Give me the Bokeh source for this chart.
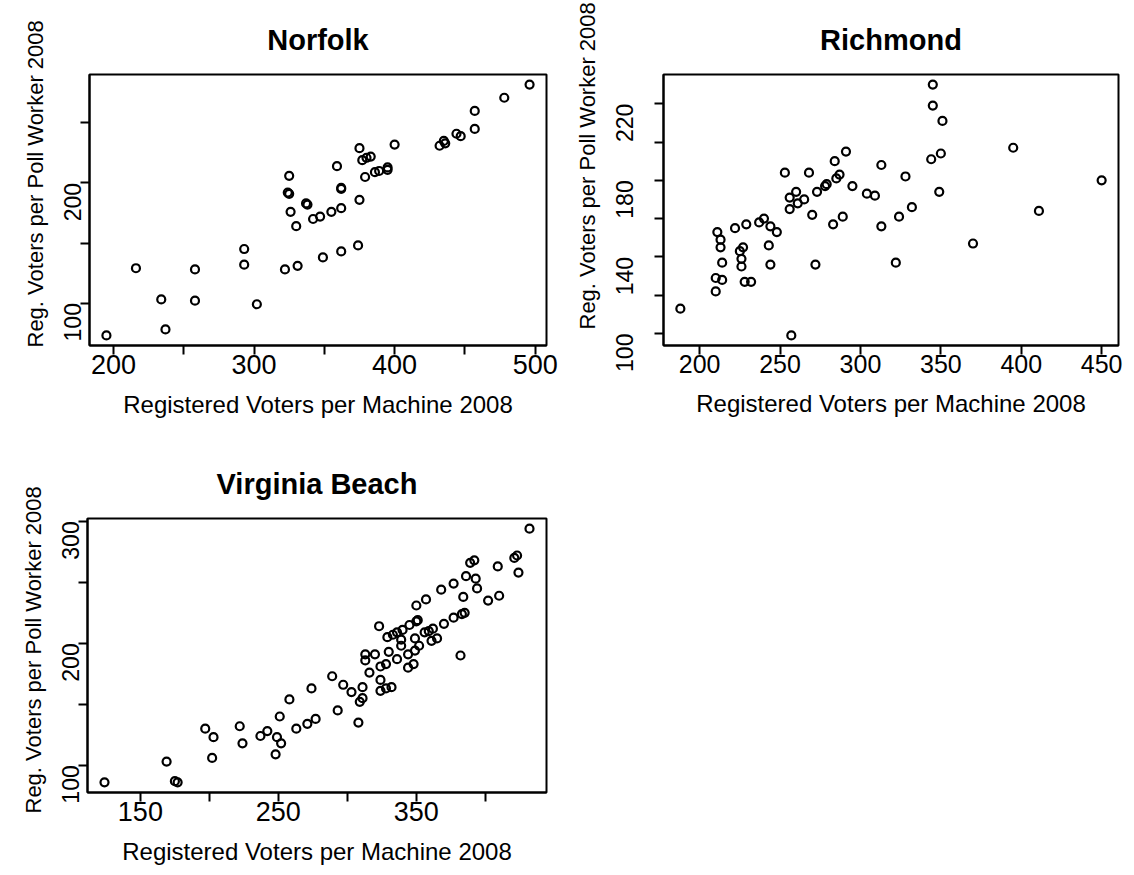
import math
from bokeh.plotting import figure
from bokeh.models import Range1d, FixedTicker, Title
from bokeh.layouts import column, row
from bokeh.embed import file_html
from bokeh.resources import INLINE

FONT = "Liberation Sans"
XLAB = "Registered Voters per Machine 2008"
YLAB = "Reg. Voters per Poll Worker 2008"

# ---------------- data ----------------
norfolk_x = [195, 216, 234, 237, 258, 258, 293, 293, 302, 325, 324, 325, 326, 330, 322, 331,
             337, 338, 342, 347, 349, 355, 362, 359, 362, 362, 362, 375, 377, 380, 383, 375,
             374, 379, 386, 389, 395, 395, 400, 432, 435, 436, 444, 447, 457, 457, 478, 496]
norfolk_y = [73, 129, 103, 78, 128, 102, 145, 132, 99, 206, 192, 191, 176, 164, 128, 131,
             183, 182, 170, 172, 138, 176, 179, 214, 196, 195, 143, 229, 219, 221, 222, 186,
             148, 205, 209, 210, 213, 211, 232, 231, 235, 233, 241, 239, 260, 245, 271, 282]
norfolk_xticks = [200, 250, 300, 350, 400, 450, 500]
norfolk_xlabels = ["200", "", "300", "", "400", "", "500"]
norfolk_yticks = [100, 150, 200, 250]
norfolk_ylabels = ["100", "", "200", ""]

richmond_x = [188, 257, 210, 210, 214, 214, 211, 213, 213, 222, 229, 225, 227, 226, 226, 228,
              232, 237, 240, 244, 248, 243, 244, 253, 256, 256, 260, 261, 265, 268, 270, 273,
              272, 278, 279, 283, 284, 285, 287, 289, 291, 295, 304, 309, 313, 313, 322, 324,
              328, 332, 344, 345, 345, 351, 350, 349, 370, 395, 411, 450]
richmond_y = [113, 99, 122, 129, 128, 137, 153, 149, 145, 155, 157, 143, 145, 139, 135, 127,
              127, 158, 160, 156, 153, 146, 136, 184, 171, 165, 174, 168, 170, 184, 162, 174,
              136, 177, 178, 157, 190, 181, 183, 161, 195, 177, 173, 172, 188, 156, 137, 161,
              182, 166, 191, 230, 219, 211, 194, 174, 147, 197, 164, 180]
richmond_xticks = [200, 250, 300, 350, 400, 450]
richmond_xlabels = ["200", "250", "300", "350", "400", "450"]
richmond_yticks = [100, 120, 140, 160, 180, 200, 220]
richmond_ylabels = ["100", "", "140", "", "180", "", "220"]

vb_x = [124, 169, 175, 177, 197, 203, 202, 222, 224, 237, 242, 249, 252, 248, 251, 258,
        263, 271, 277, 274, 289, 293, 297, 303, 311, 308, 309, 311, 313, 313, 320, 316,
        323, 324, 324, 328, 324, 328, 332, 329, 333, 336, 340, 330, 336, 339, 339, 345,
        350, 351, 344, 344, 348, 349, 352, 349, 350, 357, 356, 359, 362, 361, 365, 368,
        370, 377, 377, 383, 385, 382, 384, 386, 389, 392, 393, 394, 402, 409, 410, 421,
        423, 424, 432]
vb_y = [86, 103, 87, 86, 130, 123, 106, 132, 118, 124, 128, 123, 118, 109, 140, 154,
        130, 134, 138, 163, 173, 145, 166, 160, 164, 135, 152, 155, 191, 186, 191, 176,
        214, 170, 181, 183, 161, 163, 164, 205, 207, 209, 211, 193, 187, 203, 198, 215,
        218, 219, 191, 180, 183, 204, 198, 194, 231, 236, 209, 210, 212, 202, 204, 244,
        216, 249, 221, 224, 225, 190, 238, 255, 266, 268, 253, 245, 235, 263, 239, 270,
        272, 258, 294]
vb_xticks = [150, 200, 250, 300, 350, 400]
vb_xlabels = ["150", "", "250", "", "350", ""]
vb_yticks = [100, 150, 200, 250, 300]
vb_ylabels = ["100", "", "200", "", "300"]


def padded(vals):
    lo, hi = min(vals), max(vals)
    d = (hi - lo) * 0.04
    return Range1d(lo - d, hi + d)


def panel(title, xs, ys, xticks, xlabels, yticks, ylabels, width, height,
          borders, ylab_offset, ytick_standoff, xtick_size):
    p = figure(width=width, height=height, output_backend="svg", toolbar_location=None,
               x_range=padded(xs), y_range=padded(ys),
               min_border_left=borders[0], min_border_right=borders[1],
               min_border_top=borders[2], min_border_bottom=borders[3],
               background_fill_color="white", border_fill_color="white")
    p.title.text = title
    p.title.text_font = FONT
    p.title.text_font_size = "29px"
    p.title.text_font_style = "bold"
    p.title.text_color = "black"
    p.title.align = "center"
    p.title.standoff = 38
    p.grid.visible = False
    p.outline_line_color = "black"
    p.outline_line_width = 2

    p.scatter(xs, ys, marker="circle", size=8, fill_color=None,
              line_color="black", line_width=2.2)

    for ax in (p.xaxis[0], p.yaxis[0]):
        ax.major_tick_in = 0
        ax.major_tick_out = 9
        ax.minor_tick_in = 0
        ax.minor_tick_out = 0
        ax.axis_line_width = 2
        ax.axis_line_color = "black"
        ax.major_tick_line_width = 2
        ax.major_tick_line_color = "black"
        ax.major_label_text_font = FONT
        ax.major_label_text_color = "black"

    xa = p.xaxis[0]
    xa.ticker = FixedTicker(ticks=xticks)
    xa.major_label_overrides = dict(zip(xticks, xlabels))
    xa.major_label_text_font_size = xtick_size
    xa.major_label_standoff = 0
    xa.axis_label = XLAB
    xa.axis_label_text_font = FONT
    xa.axis_label_text_font_size = "24px"
    xa.axis_label_text_font_style = "normal"
    xa.axis_label_text_color = "black"
    xa.axis_label_standoff = 14

    ya = p.yaxis[0]
    ya.ticker = FixedTicker(ticks=yticks)
    ya.major_label_overrides = dict(zip(yticks, ylabels))
    ya.major_label_text_font_size = "23px"
    ya.major_label_orientation = math.pi / 2
    ya.major_label_standoff = ytick_standoff

    p.add_layout(Title(text=YLAB, align="left", offset=ylab_offset,
                       text_font=FONT, text_font_size="22px", text_color="black",
                       text_font_style="normal", standoff=10), "left")
    return p


p1 = panel("Norfolk", norfolk_x, norfolk_y, norfolk_xticks, norfolk_xlabels,
           norfolk_yticks, norfolk_ylabels, 567, 435, (89, 21, 72, 90), -2, 8, "27px")
p2 = panel("Richmond", richmond_x, richmond_y, richmond_xticks, richmond_xlabels,
           richmond_yticks, richmond_ylabels, 567, 435, (90, 16, 74, 86), 16, 30, "25px")
p3 = panel("Virginia Beach", vb_x, vb_y, vb_xticks, vb_xlabels,
           vb_yticks, vb_ylabels, 567, 440, (87, 21, 83, 83), -21, 8, "27px")

layout = column(row(p1, p2), p3)
open("out.html", "w").write(file_html(layout, INLINE))
